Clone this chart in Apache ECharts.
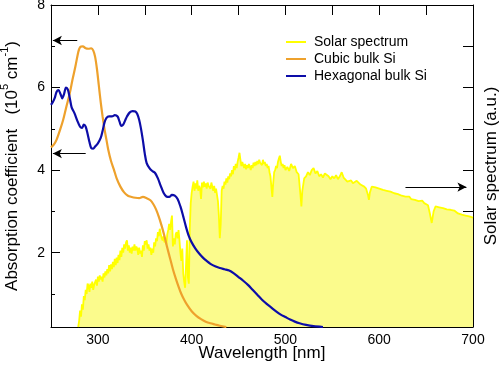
<!DOCTYPE html>
<html>
<head>
<meta charset="utf-8">
<script src="https://cdn.jsdelivr.net/npm/echarts@6/dist/echarts.min.js"></script>
<style>html,body{margin:0;padding:0;background:#fff}#c{width:500px;height:365px}</style>
</head>
<body>
<div id="c"></div>
<script>
// ---- data ----
var cubicSi = [
[250,4.55],[253,4.62],[256,4.74],[260,5.0],[263,5.22],[266,5.5],[270,5.86],[273,6.2],[276,6.51],[279,6.85],
[281,6.98],[284,7.0],[287,6.95],[290,6.94],[293,6.95],[295,6.9],[297,6.75],[299,6.45],[301,6.05],[303,5.65],
[305,5.3],[307,5.0],[309,4.75],[311,4.5],[314,4.22],[317,4.02],[320,3.8],[324,3.6],[328,3.46],[332,3.38],
[336,3.35],[340,3.33],[344,3.32],[348,3.35],[352,3.32],[356,3.27],[359,3.18],[362,3.05],[365,2.87],[368,2.65],
[371,2.4],[374,2.12],[377,1.86],[380,1.6],[383,1.38],[386,1.18],[389,1.0],[392,0.86],[395,0.74],[400,0.58],
[405,0.47],[410,0.39],[415,0.33],[420,0.29],[425,0.26],[430,0.23],[437,0.2]
];
var hexSi = [
[250,5.58],[252,5.65],[254,5.75],[256,5.9],[258,5.94],[260,5.85],[262,5.74],[264,5.85],[266,6.0],[268,5.95],
[270,5.75],[272,5.52],[275,5.38],[278,5.2],[281,5.05],[283,5.02],[285,5.1],[287,5.05],[289,4.88],[291,4.68],
[293,4.53],[295,4.52],[297,4.57],[300,4.65],[303,4.78],[305,4.95],[307,5.15],[309,5.26],[312,5.3],[315,5.3],
[318,5.33],[321,5.3],[323,5.18],[325,5.07],[327,5.1],[329,5.2],[331,5.3],[334,5.4],[337,5.43],[340,5.42],
[342,5.36],[344,5.22],[346,5.0],[348,4.72],[350,4.4],[352,4.17],[355,4.05],[358,3.98],[361,3.93],[364,3.8],
[367,3.62],[370,3.45],[373,3.36],[376,3.35],[379,3.4],[382,3.38],[385,3.3],[388,3.12],[391,2.88],[394,2.62],
[397,2.4],[400,2.25],[404,2.1],[408,1.98],[412,1.88],[416,1.8],[420,1.73],[425,1.67],[430,1.63],[435,1.6],
[440,1.57],[445,1.5],[450,1.41],[455,1.32],[460,1.22],[465,1.1],[470,0.98],[475,0.86],[480,0.76],[485,0.67],
[490,0.58],[495,0.5],[500,0.44],[505,0.38],[510,0.33],[515,0.29],[522,0.25],[530,0.22],[540,0.2]
];
var solar = [
[279,0.2],[280,0.35],[281,0.6],[282,0.45],[283,0.75],[284,0.62],[285,0.95],[286,0.85],[287,1.1],[288,1.0],
[289,1.25],[290,1.2],[291,1.05],[292,1.25],[293,1.15],[294,1.3],[295,1.1],[296,1.22],[297,1.18],[298,1.35],
[299,1.2],[300,1.42],[301,1.3],[302,1.45],[303,1.35],[304,1.42],[305,1.3],[306,1.5],[307,1.4],[308,1.55],
[309,1.45],[310,1.6],[311,1.5],[312,1.7],[313,1.55],[314,1.72],[315,1.6],[316,1.78],[317,1.65],[318,1.85],
[319,1.7],[320,1.88],[321,1.75],[322,1.95],[323,1.82],[324,2.05],[325,1.9],[326,2.12],[327,2.0],[328,2.2],
[329,2.1],[330,2.25],[331,2.3],[332,2.05],[333,2.18],[334,2.0],[335,2.12],[336,1.98],[337,2.15],[338,2.05],
[339,2.2],[340,2.05],[341,2.15],[342,2.1],[343,1.95],[344,2.12],[345,1.98],[346,2.05],[347,1.9],[348,2.18],
[349,2.05],[350,2.28],[351,2.2],[352,2.3],[353,2.1],[354,2.2],[355,2.05],[356,2.12],[357,1.95],[358,2.1],
[359,2.0],[360,2.25],[361,2.15],[362,2.35],[363,2.28],[364,2.5],[365,2.4],[366,2.58],[367,2.45],[368,2.35],
[369,2.3],[370,2.4],[371,2.25],[372,2.32],[373,2.2],[374,2.45],[375,2.55],[376,2.7],[377,2.55],[378,2.75],
[379,2.9],[380,2.15],[381,2.35],[382,2.2],[383,2.45],[384,2.5],[385,2.35],[386,2.55],[387,2.3],[388,2.0],
[389,1.8],[390,2.1],[391,1.5],[392,1.3],[393,1.15],[394,1.7],[395,2.3],[396,1.4],[397,1.25],[398,2.6],
[399,3.2],[400,3.45],[401,3.6],[402,3.72],[403,3.5],[404,3.68],[405,3.55],[406,3.75],[407,3.5],[408,3.62],
[409,3.55],[410,3.3],[411,3.7],[412,3.58],[413,3.72],[414,3.6],[415,3.68],[416,3.55],[417,3.7],[418,3.62],
[419,3.65],[420,3.55],[421,3.7],[422,3.6],[423,3.5],[424,3.62],[425,3.45],[426,3.55],[427,3.4],[428,3.25],
[429,2.9],[430,2.35],[431,2.7],[432,3.5],[433,3.62],[434,3.55],[435,3.72],[436,3.65],[437,3.8],[438,3.7],
[439,3.85],[440,3.78],[441,3.92],[442,3.85],[443,4.0],[444,3.9],[445,4.1],[446,4.0],[447,4.15],[448,4.05],
[449,4.2],[450,4.3],[451,4.42],[452,4.25],[453,4.1],[454,4.2],[455,4.12],[456,4.05],[457,4.15],[458,4.02],
[459,4.12],[460,4.05],[461,4.15],[462,4.08],[463,4.0],[464,4.12],[465,4.05],[466,4.18],[467,4.1],[468,4.2],
[469,4.12],[470,4.22],[471,4.15],[472,4.25],[473,4.18],[474,4.22],[475,4.12],[476,4.25],[477,4.15],[478,4.2],
[479,4.1],[480,4.15],[481,4.05],[482,4.1],[483,3.95],[484,3.85],[485,3.6],[486,3.35],[487,3.7],[488,3.95],
[489,4.0],[490,4.1],[491,4.05],[492,4.2],[493,4.28],[494,4.35],[495,4.2],[496,4.1],[497,4.15],[498,4.05],
[499,4.12],[500,4.0],[502,4.08],[504,3.98],[506,4.15],[508,4.05],[510,4.1],[512,3.95],[514,3.9],[516,3.4],
[517,3.12],[518,3.5],[520,3.8],[522,3.85],[524,3.95],[526,3.88],[528,4.0],[530,4.05],[532,3.92],[534,3.98],
[536,3.85],[538,3.9],[540,3.82],[542,3.92],[544,3.95],[546,3.85],[548,3.78],[550,3.85],[552,3.8],[554,3.88],
[556,3.78],[558,3.85],[560,3.95],[562,3.82],[564,3.78],[566,3.72],[568,3.7],[570,3.75],[572,3.68],[574,3.72],
[576,3.74],[578,3.7],[580,3.65],[582,3.68],[584,3.6],[586,3.55],[588,3.4],[589,3.28],[590,3.45],[592,3.6],
[594,3.62],[596,3.58],[598,3.6],[600,3.55],[602,3.58],[604,3.52],[606,3.54],[608,3.5],[610,3.52],[612,3.48],
[614,3.5],[616,3.44],[618,3.46],[620,3.42],[622,3.45],[624,3.38],[626,3.4],[628,3.36],[630,3.33],[632,3.36],
[634,3.3],[636,3.32],[638,3.28],[640,3.3],[642,3.25],[644,3.22],[646,3.26],[648,3.2],[650,3.22],[652,3.15],
[654,2.95],[656,2.72],[658,3.0],[660,3.12],[662,3.14],[664,3.1],[666,3.12],[668,3.08],[670,3.06],[672,3.05],
[674,3.02],[676,3.04],[678,3.0],[680,3.02],[682,2.98],[684,2.95],[686,2.97],[688,2.92],[690,2.94],[692,2.9],
[694,2.92],[696,2.88],[698,2.86],[700,2.85]
];
var xMajorTicks = [300, 400, 500, 600, 700];
var xMinorTicks = [350, 450, 550, 650];
var xTopTicks = [300, 350, 400, 450, 500, 550, 600, 650];
var yMajorTicks = [2, 4, 6, 8];
var yMinorTicks = [1, 3, 5, 7];
var yRightTicks = [1, 2, 3, 4, 5, 6, 7];
// arrows: [xStart, xEnd, y]
var cubicArrow = [252, 278, 7.14];
var hexArrow = [252, 287, 4.4];
var solarArrow = [628, 693, 3.59];

var FONT = 'Liberation Sans, Arial, Helvetica, sans-serif';
var chart = echarts.init(document.getElementById('c'), null, {renderer: 'canvas'});
var axisLineStyle = {show: true, lineStyle: {color: '#000', width: 1}};
var lineIcon = 'path://M0,0 L20,0 L20,2 L0,2 Z';
function arrowLine(a, leftPointing) {
  return [
    {coord: [a[0], a[2]], symbol: leftPointing ? 'arrow' : 'none'},
    {coord: [a[1], a[2]], symbol: leftPointing ? 'none' : 'arrow'}
  ];
}
var markLineBase = {
  silent: true, animation: false, symbolSize: [7, 9],
  label: {show: false},
  lineStyle: {color: '#000', width: 1, type: 'solid'},
  emphasis: {disabled: true}
};
var option = {
  animation: false,
  textStyle: {fontFamily: FONT},
  grid: {left: 51, right: 27, top: 5, bottom: 38, containLabel: false, outerBoundsMode: 'none'},
  legend: {
    orient: 'vertical', left: 286, top: 35, padding: 0, itemWidth: 20, itemHeight: 14, itemGap: 3,
    symbolKeepAspect: true,
    textStyle: {fontSize: 14, color: '#000', fontFamily: FONT, padding: [0, 0, 0, 3]},
    data: [
      {name: 'Solar spectrum', icon: lineIcon},
      {name: 'Cubic bulk Si', icon: lineIcon},
      {name: 'Hexagonal bulk Si', icon: lineIcon}
    ]
  },
  xAxis: [
    {type: 'value', min: 250, max: 700, position: 'bottom',
     axisLine: axisLineStyle,
     axisTick: {show: true, inside: true, length: 9, customValues: xMajorTicks, lineStyle: {color: '#000'}},
     axisLabel: {show: true, customValues: xMajorTicks, margin: 6, fontSize: 14, color: '#000', fontFamily: FONT},
     splitLine: {show: false},
     name: 'Wavelength [nm]', nameLocation: 'middle', nameGap: 18, nameMoveOverlap: false,
     nameTextStyle: {fontSize: 17, color: '#000', fontFamily: FONT, verticalAlign: 'top'}},
    {type: 'value', min: 250, max: 700, position: 'bottom',
     axisLine: {show: false},
     axisTick: {show: true, inside: true, length: 4, customValues: xMinorTicks, lineStyle: {color: '#000'}},
     axisLabel: {show: false}, splitLine: {show: false}},
    {type: 'value', min: 250, max: 700, position: 'top',
     axisLine: axisLineStyle,
     axisTick: {show: true, inside: true, length: 10, customValues: xTopTicks, lineStyle: {color: '#000'}},
     axisLabel: {show: false}, splitLine: {show: false}}
  ],
  yAxis: [
    {type: 'value', min: 0.2, max: 8, position: 'left',
     axisLine: axisLineStyle,
     axisTick: {show: true, inside: true, length: 9, customValues: yMajorTicks, lineStyle: {color: '#000'}},
     axisLabel: {show: true, customValues: yMajorTicks, margin: 6, fontSize: 14, color: '#000', fontFamily: FONT},
     splitLine: {show: false},
     name: '{n|Absorption coefficient   (10}{s|5}{n| cm}{s|-1}{n|)}', nameLocation: 'middle', nameGap: 30,
     nameTextStyle: {fontFamily: FONT, color: '#000',
       rich: {
         n: {fontSize: 17, lineHeight: 22, verticalAlign: 'bottom', fontFamily: FONT, color: '#000'},
         s: {fontSize: 11, lineHeight: 12, verticalAlign: 'top', fontFamily: FONT, color: '#000'}
       }}},
    {type: 'value', min: 0.2, max: 8, position: 'left',
     axisLine: {show: false},
     axisTick: {show: true, inside: true, length: 4, customValues: yMinorTicks, lineStyle: {color: '#000'}},
     axisLabel: {show: false}, splitLine: {show: false}},
    {type: 'value', min: 0.2, max: 8, position: 'right',
     axisLine: axisLineStyle,
     axisTick: {show: true, inside: true, length: 10, customValues: yRightTicks, lineStyle: {color: '#000'}},
     axisLabel: {show: false}, splitLine: {show: false},
     name: 'Solar spectrum (a.u.)', nameLocation: 'middle', nameGap: 10,
     nameTextStyle: {fontSize: 17, color: '#000', fontFamily: FONT}}
  ],
  series: [
    {name: 'Solar spectrum', type: 'line', xAxisIndex: 0, yAxisIndex: 2, data: solar,
     symbol: 'none', showSymbol: false, smooth: false,
     lineStyle: {color: '#ffff00', width: 1.8},
     itemStyle: {color: '#ffff00'},
     areaStyle: {color: '#fbfb8c', opacity: 1, origin: 'start'},
     markLine: Object.assign({}, markLineBase, {data: [arrowLine(solarArrow, false)]}),
     z: 1},
    {name: 'Cubic bulk Si', type: 'line', xAxisIndex: 0, yAxisIndex: 0, data: cubicSi,
     symbol: 'none', showSymbol: false, smooth: 0.3,
     lineStyle: {color: '#eea12c', width: 2.2},
     itemStyle: {color: '#eea12c'},
     markLine: Object.assign({}, markLineBase, {data: [arrowLine(cubicArrow, true), arrowLine(hexArrow, true)]}),
     z: 3},
    {name: 'Hexagonal bulk Si', type: 'line', xAxisIndex: 0, yAxisIndex: 0, data: hexSi,
     symbol: 'none', showSymbol: false, smooth: 0.3,
     lineStyle: {color: '#0d0da8', width: 2.2},
     itemStyle: {color: '#0d0da8'},
     z: 4}
  ]
};
chart.setOption(option);
</script>
</body>
</html>
